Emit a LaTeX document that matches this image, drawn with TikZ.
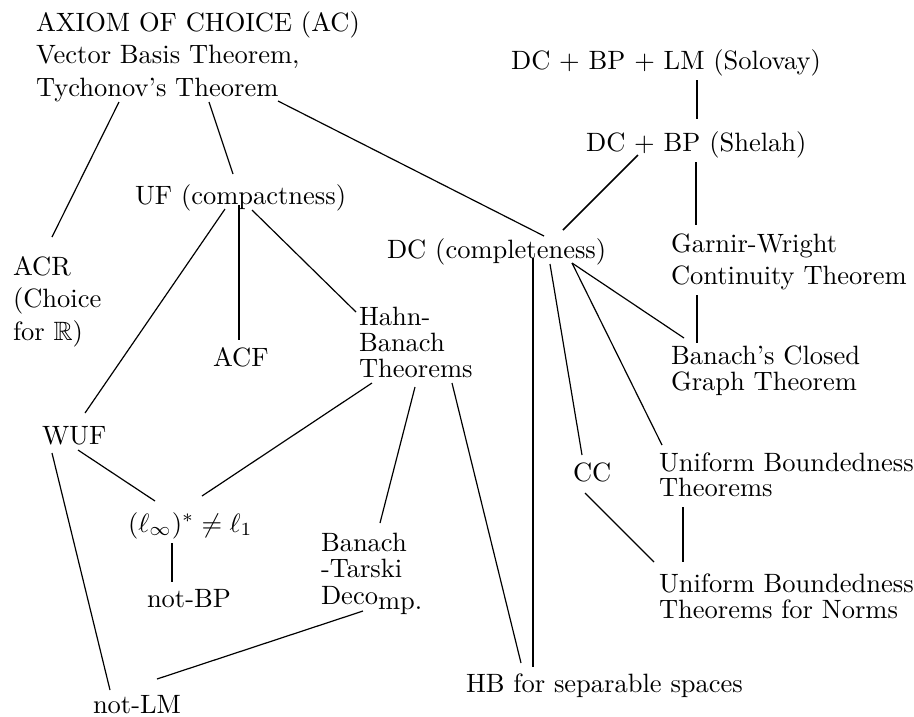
\documentclass[tikz,border=0pt]{standalone}
\usepackage{amssymb}
\begin{document}
\begin{tikzpicture}[x=0.3774pt,y=-0.3774pt,
  every node/.style={inner sep=0pt,outer sep=0pt,anchor=base west,font=\fontsize{10}{12.4}\selectfont},
  conn/.style={line width=0.45pt},
  thickconn/.style={line width=0.6pt}]
\useasboundingbox (0,0) rectangle (914,716);
% nodes
\node (ac) at (36,31) {\begin{tabular}[t]{@{}l@{}}AXIOM OF CHOICE (AC)\\Vector Basis Theorem,\\Tychonov's Theorem\end{tabular}};
\node (sol) at (511,69) {DC + BP + LM (Solovay)};
\node (shel) at (586,151) {DC + BP (Shelah)};
\node (uf) at (135,204) {UF (compactness)};
\node (dc) at (387,258) {DC (completeness)};
\node (garnir) at (671,252) {\begin{tabular}[t]{@{}l@{}}Garnir-Wright\\Continuity Theorem\end{tabular}};
\node (closed) at (671,364) {\begin{tabular}[t]{@{}l@{}}Banach's Closed\\[-2.3pt]Graph Theorem\end{tabular}};
\node (acr) at (13,275) {\begin{tabular}[t]{@{}l@{}}ACR\\(Choice\\for $\mathbb{R}$)\end{tabular}};
\node (acf) at (213,366) {ACF};
\node (hahn) at (359,325) {\begin{tabular}[t]{@{}l@{}}Hahn-\\[-2.5pt]Banach\\[-2.5pt]Theorems\end{tabular}};
\node (wuf) at (42,444) {WUF};
\node (cc) at (573,481) {CC};
\node (ub) at (659,471) {\begin{tabular}[t]{@{}l@{}}Uniform Boundedness\\[-2.8pt]Theorems\end{tabular}};
\node (ubn) at (659,592) {\begin{tabular}[t]{@{}l@{}}Uniform Boundedness\\[-2.5pt]Theorems for Norms\end{tabular}};
\node (hb) at (466,692) {HB for separable spaces};
\node (linf) at (128,532) {$(\ell_\infty)^* \neq \ell_1$};
\node (notbp) at (147,607) {not-BP};
\node (bt) at (321,551) {\begin{tabular}[t]{@{}l@{}}Banach\\[-2.3pt]-Tarski\\[-2.3pt]Deco\raisebox{-2pt}{mp.}\end{tabular}};
\node (notlm) at (93,713) {not-LM};
% connectors
\draw[conn] ([shift={(83,71)}]ac.base west) -- ([shift={(39,-38)}]acr.base west);
\draw[conn] ([shift={(173,71)}]ac.base west) -- ([shift={(98,-30)}]uf.base west);
\draw[conn] ([shift={(242,70)}]ac.base west) -- ([shift={(157,-22)}]dc.base west);
\draw[conn] ([shift={(186,11)}]sol.base west) -- ([shift={(111,-32)}]shel.base west);
\draw[thickconn] ([shift={(52,4)}]shel.base west) -- ([shift={(176,-28)}]dc.base west);
\draw[conn] ([shift={(110,11)}]shel.base west) -- ([shift={(25,-27)}]garnir.base west);
\draw[conn] ([shift={(26,43)}]garnir.base west) -- ([shift={(26,-21)}]closed.base west);
\draw[conn] ([shift={(185,5)}]dc.base west) -- ([shift={(13,-26)}]closed.base west);
\draw[conn] ([shift={(185,5)}]dc.base west) -- ([shift={(3,-26)}]ub.base west);
\draw[conn] ([shift={(163,6)}]dc.base west) -- ([shift={(9,-26)}]cc.base west);
\draw[thickconn] ([shift={(146,0)}]dc.base west) -- ([shift={(67,-25)}]hb.base west);
\draw[conn] ([shift={(90,5)}]uf.base west) -- ([shift={(43,-31)}]wuf.base west);
\draw[conn] ([shift={(104,1)}]uf.base west) -- ([shift={(26,-26)}]acf.base west);
\draw[conn] ([shift={(117,6)}]uf.base west) -- ([shift={(-3,-13)}]hahn.base west);
\draw[conn] ([shift={(13,58)}]hahn.base west) -- ([shift={(74,-36)}]linf.base west);
\draw[conn] ([shift={(56,62)}]hahn.base west) -- ([shift={(59,-28)}]bt.base west);
\draw[conn] ([shift={(93,58)}]hahn.base west) -- ([shift={(55,-29)}]hb.base west);
\draw[conn] ([shift={(36,6)}]wuf.base west) -- ([shift={(27,-31)}]linf.base west);
\draw[conn] ([shift={(10,9)}]wuf.base west) -- ([shift={(17,-23)}]notlm.base west);
\draw[conn] ([shift={(44,11)}]linf.base west) -- ([shift={(25,-25)}]notbp.base west);
\draw[thickconn] ([shift={(24,36)}]ub.base west) -- ([shift={(24,-30)}]ubn.base west);
\draw[conn] ([shift={(12,12)}]cc.base west) -- ([shift={(-5,-30)}]ubn.base west);
\draw[conn] ([shift={(42,60)}]bt.base west) -- ([shift={(64,-34)}]notlm.base west);
\end{tikzpicture}
\end{document}
